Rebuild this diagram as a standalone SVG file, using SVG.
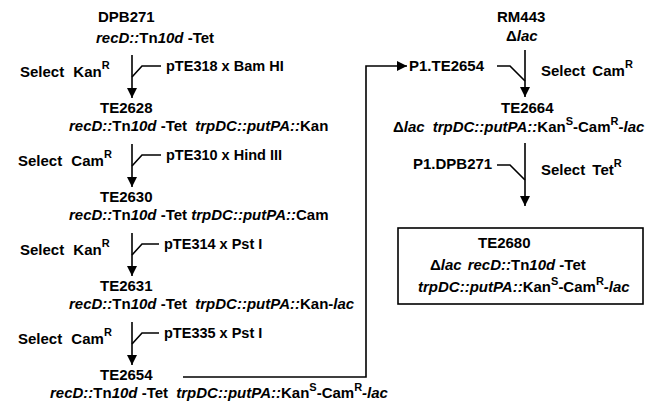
<svg xmlns="http://www.w3.org/2000/svg" width="659" height="410" viewBox="0 0 659 410">
<style>
text{font-family:"Liberation Sans",Arial,Helvetica,sans-serif;font-size:15px;font-weight:bold;fill:#000}
.i{font-style:italic}
.s{font-size:11px}
.p{font-size:14.5px}
.ln{fill:none;stroke:#000;stroke-width:1.6}
</style>
<defs>
<marker id="ah" viewBox="0 0 10 10" refX="10" refY="5" markerWidth="10" markerHeight="10" markerUnits="userSpaceOnUse" orient="auto"><path d="M0,0 L10,5 L0,10 Z"/></marker>
</defs>
<rect width="659" height="410" fill="#fff"/>
<g id="DPB271">
<text x="98" y="22">DPB271</text>
<text x="96" y="43"><tspan class="i">recD::</tspan>Tn<tspan class="i">10d</tspan> -Tet</text>
</g>
<g id="TE2628">
<text x="100" y="113">TE2628</text>
<text x="69" y="131"><tspan class="i">recD::</tspan>Tn<tspan class="i">10d</tspan> -Tet <tspan class="i" dx="4">trpDC::putPA::</tspan>Kan</text>
</g>
<g id="TE2630">
<text x="100" y="202">TE2630</text>
<text x="69" y="220"><tspan class="i">recD::</tspan>Tn<tspan class="i">10d</tspan> -Tet <tspan class="i">trpDC::putPA::</tspan>Cam</text>
</g>
<g id="TE2631">
<text x="100" y="291">TE2631</text>
<text x="69" y="309"><tspan class="i">recD::</tspan>Tn<tspan class="i">10d</tspan> -Tet <tspan class="i" dx="4">trpDC::putPA::</tspan>Kan-<tspan class="i">lac</tspan></text>
</g>
<g id="TE2654">
<text x="100" y="380">TE2654</text>
<text x="50" y="398"><tspan class="i">recD::</tspan>Tn<tspan class="i">10d</tspan> -Tet <tspan class="i" dx="4">trpDC::putPA::</tspan>Kan<tspan class="s" dy="-7">S</tspan><tspan dy="7">-Cam</tspan><tspan class="s" dy="-7">R</tspan><tspan class="i" dy="7">-lac</tspan></text>
</g>
<g id="RM443">
<text x="497" y="22">RM443</text>
<text x="506" y="41">Δ<tspan class="i">lac</tspan></text>
</g>
<g id="P1.TE2654">
<text x="409" y="71">P1.TE2654</text>
</g>
<g id="TE2664">
<text x="501" y="113">TE2664</text>
<text x="393" y="132">Δ<tspan class="i">lac</tspan><tspan class="i" dx="8">trpDC::putPA::</tspan>Kan<tspan class="s" dy="-7">S</tspan><tspan dy="7">-Cam</tspan><tspan class="s" dy="-7">R</tspan><tspan class="i" dy="7">-lac</tspan></text>
</g>
<g id="P1.DPB271">
<text x="413" y="169">P1.DPB271</text>
</g>
<g id="TE2680">
<rect x="398" y="228" width="245" height="76" fill="none" stroke="#000" stroke-width="1.6"/>
<text x="478" y="248">TE2680</text>
<text x="430" y="270">Δ<tspan class="i">lac</tspan><tspan class="i" dx="6">recD::</tspan>Tn<tspan class="i">10d</tspan> -Tet</text>
<text x="418" y="292"><tspan class="i">trpDC::putPA::</tspan>Kan<tspan class="s" dy="-7">S</tspan><tspan dy="7">-Cam</tspan><tspan class="s" dy="-7">R</tspan><tspan class="i" dy="7">-lac</tspan></text>
</g>
<g id="labels">
<text x="20" y="77">Select<tspan dx="5"> Kan</tspan><tspan class="s" dy="-8">R</tspan></text>
<text class="p" x="166" y="71">pTE318 x Bam HI</text>
<text x="18" y="166">Select<tspan dx="5"> Cam</tspan><tspan class="s" dy="-8">R</tspan></text>
<text class="p" x="166" y="160">pTE310 x Hind III</text>
<text x="20" y="255">Select<tspan dx="5"> Kan</tspan><tspan class="s" dy="-8">R</tspan></text>
<text class="p" x="164" y="249">pTE314 x Pst I</text>
<text x="18" y="344">Select<tspan dx="5"> Cam</tspan><tspan class="s" dy="-8">R</tspan></text>
<text class="p" x="164" y="338">pTE335 x Pst I</text>
<text x="541" y="76">Select<tspan dx="3"> Cam</tspan><tspan class="s" dy="-8">R</tspan></text>
<text x="541" y="175">Select<tspan dx="3"> Tet</tspan><tspan class="s" dy="-8">R</tspan></text>
</g>
<g id="connectors">
<path class="ln" d="M132,55 V98" marker-end="url(#ah)"/>
<path class="ln" d="M132,77 L142,66 H161"/>
<path class="ln" d="M132,144 V187" marker-end="url(#ah)"/>
<path class="ln" d="M132,166 L142,155 H161"/>
<path class="ln" d="M132,233 V276" marker-end="url(#ah)"/>
<path class="ln" d="M132,255 L142,244 H159"/>
<path class="ln" d="M132,322 V365" marker-end="url(#ah)"/>
<path class="ln" d="M132,344 L142,333 H159"/>
<path class="ln" d="M525,50 V97" marker-end="url(#ah)"/>
<path class="ln" d="M497,66 H510 L525,81"/>
<path class="ln" d="M525,143 V206" marker-end="url(#ah)"/>
<path class="ln" d="M497,165 H510 L525,180"/>
<path class="ln" d="M183,377 H366 V66 H407" marker-end="url(#ah)"/>
</g>
</svg>
